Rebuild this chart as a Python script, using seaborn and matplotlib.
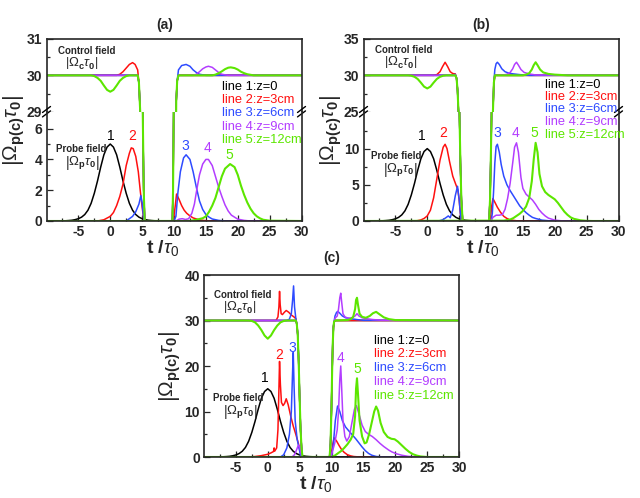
import matplotlib
matplotlib.use("Agg")
import matplotlib.pyplot as plt
import seaborn as sns

sns.set_style("ticks")
plt.rcParams['font.family'] = ['Liberation Sans', 'DejaVu Sans']
plt.rcParams['mathtext.fontset'] = 'custom'
plt.rcParams['mathtext.rm'] = 'Liberation Sans'
plt.rcParams['mathtext.it'] = 'Liberation Sans:italic'
plt.rcParams['mathtext.bf'] = 'Liberation Sans:bold'
plt.rcParams['axes.unicode_minus'] = False

colors = ['#000000', '#FF1010', '#2E4BFF', '#B33DFF', '#5CE600']
widths = [1.1, 1.1, 1.1, 1.1, 1.5]
line_labels = ['line 1:z=0', 'line 2:z=3cm', 'line 3:z=6cm', 'line 4:z=9cm', 'line 5:z=12cm']
x_major = [-5, 0, 5, 10, 15, 20, 25, 30]
x_minor = [-7.5, -2.5, 2.5, 7.5, 12.5, 17.5, 22.5, 27.5]

# ---------------- probe field |Omega_p tau_0| ----------------
t_black = [-10, -7, -6.5, -6, -5.5, -5, -4.5, -4, -3.5, -3, -2.5, -2, -1.5, -1, -0.5, 0,
           0.5, 1, 1.5, 2, 2.5, 3, 3.5, 4, 4.5, 5, 5.5, 6, 6.5, 7, 30]
a_p1 = [0, 0.015, 0.03, 0.05, 0.09, 0.15, 0.25, 0.42, 0.7, 1.15, 1.8, 2.6, 3.5, 4.3, 4.8, 5.0,
        4.8, 4.3, 3.5, 2.6, 1.8, 1.15, 0.7, 0.42, 0.25, 0.15, 0.09, 0.05, 0.03, 0.015, 0]
b_p1 = [0, 0.03, 0.06, 0.1, 0.18, 0.3, 0.5, 0.84, 1.4, 2.3, 3.6, 5.2, 7.0, 8.6, 9.6, 10.0,
        9.6, 8.6, 7.0, 5.2, 3.6, 2.3, 1.4, 0.84, 0.5, 0.3, 0.18, 0.1, 0.06, 0.03, 0]
c_p1 = [0, 0.05, 0.09, 0.15, 0.27, 0.45, 0.75, 1.26, 2.1, 3.45, 5.4, 7.8, 10.5, 12.9, 14.4, 15.0,
        14.4, 12.9, 10.5, 7.8, 5.4, 3.45, 2.1, 1.26, 0.75, 0.45, 0.27, 0.15, 0.09, 0.05, 0]

a_t2 = [-10, -2, -1, 0, 0.5, 1, 1.5, 2, 2.5, 3, 3.3, 3.6, 4, 4.4, 4.7, 5.0, 5.3,
        9.9, 10.2, 10.4, 10.8, 11.2, 11.6, 12, 12.5, 13, 14, 15, 16, 30]
a_p2 = [0, 0, 0.08, 0.3, 0.55, 1.0, 1.6, 2.4, 3.6, 4.4, 4.75, 4.7, 4.2, 3.2, 2.0, 0.9, 0,
        0, 1.0, 1.75, 1.4, 1.0, 0.7, 0.5, 0.33, 0.2, 0.07, 0.02, 0, 0]
a_t3 = [-10, 2.5, 3, 3.5, 4, 4.5, 4.8, 5.0, 5.2, 5.35,
        10.0, 10.3, 10.6, 11, 11.5, 11.9, 12.5, 13, 13.5, 14, 14.5, 15, 15.5, 16, 17, 18, 30]
a_p3 = [0, 0, 0.15, 0.3, 0.6, 1.1, 1.65, 1.2, 0.3, 0,
        0, 0.3, 1.8, 3.2, 4.1, 4.3, 4.0, 3.2, 2.2, 1.3, 0.75, 0.42, 0.25, 0.13, 0.04, 0, 0]
a_t4 = [-10, 10.3, 10.8, 11.3, 11.8, 12.3, 12.8, 13.2, 13.6, 14, 14.5, 15, 15.4, 16, 16.5,
        17, 17.5, 18, 18.5, 19, 20, 21, 22, 30]
a_p4 = [0, 0, 0.12, 0.15, 0.1, 0.15, 0.5, 1.1, 2.1, 3.0, 3.7, 4.0, 4.0, 3.6, 2.9,
        2.2, 1.6, 1.05, 0.65, 0.38, 0.12, 0.04, 0, 0]
a_t5 = [-10, 12.5, 13.5, 14.5, 15, 15.5, 16, 16.5, 17, 17.5, 18, 18.8, 19.5, 20, 20.5,
        21, 21.5, 22, 22.5, 23, 23.5, 24, 25, 30]
a_p5 = [0, 0, 0.08, 0.18, 0.3, 0.6, 1.0, 1.5, 2.2, 2.9, 3.4, 3.7, 3.5, 3.0, 2.3,
        1.7, 1.2, 0.8, 0.5, 0.3, 0.17, 0.08, 0.02, 0]

b_t2 = [-10, -2, -1.5, -1, -0.5, 0, 0.5, 1, 1.5, 2, 2.5, 2.8, 3.1, 3.5, 4, 4.5, 4.8, 5.0, 5.2, 5.35,
        9.9, 10.1, 10.3, 10.6, 11, 11.5, 12, 12.5, 13, 14, 15, 30]
b_p2 = [0, 0, 0.05, 0.15, 0.35, 0.7, 1.5, 3.2, 5.8, 8.4, 10.2, 10.6, 10.0, 8.2, 6.2, 5.0, 4.3, 3.0, 1.0, 0,
        0, 2.0, 3.1, 2.6, 1.9, 1.2, 0.65, 0.35, 0.15, 0.03, 0, 0]
b_t3 = [-10, 1.5, 2, 2.5, 3, 3.3, 3.6, 4, 4.4, 4.75, 5.0, 5.2, 5.35,
        10.0, 10.2, 10.4, 10.6, 10.8, 11.0, 11.3, 11.6, 12, 12.5, 13, 13.5, 14, 14.5, 15,
        15.5, 16, 16.5, 17, 18, 19, 20, 30]
b_p3 = [0, 0, 0.05, 0.2, 0.5, 0.7, 0.45, 1.5, 3.5, 4.8, 3.0, 1.0, 0,
        0, 1.0, 4.0, 8.0, 10.3, 10.6, 9.5, 7.8, 6.2, 5.0, 4.2, 3.5, 2.8, 2.1, 1.6,
        1.15, 0.8, 0.5, 0.35, 0.12, 0.04, 0, 0]
b_t4 = [-10, 10, 10.3, 10.8, 11.3, 11.8, 12.2, 12.6, 13.0, 13.4, 13.7, 14.0, 14.3, 14.7, 15.0,
        15.5, 16, 16.5, 17, 17.5, 18, 18.5, 19, 20, 21, 22, 30]
b_p4 = [0, 0, 0.5, 0.8, 0.8, 0.9, 1.6, 3.1, 5.2, 8.0, 10.2, 10.8, 9.5, 6.0, 4.5,
        3.7, 3.3, 2.9, 2.3, 1.6, 1.1, 0.7, 0.4, 0.12, 0.03, 0, 0]
b_t5 = [-10, 12, 13, 13.5, 14, 14.5, 15, 15.5, 16, 16.4, 16.7, 17, 17.3, 17.6, 18, 18.5, 19,
        19.5, 20, 20.5, 21, 21.5, 22, 22.5, 23, 24, 25, 26, 30]
b_p5 = [0, 0.05, 0.2, 0.4, 0.7, 1.0, 1.4, 2.0, 3.2, 5.5, 8.5, 10.8, 9.5, 6.5, 4.8, 4.0, 3.6,
        3.3, 3.0, 2.5, 1.9, 1.3, 0.85, 0.5, 0.3, 0.1, 0.02, 0, 0]

c_t2 = [-10, -3, -2, -1, 0, 0.5, 0.9, 1.0, 1.1, 1.4, 1.6, 1.72, 1.85, 1.98, 2.15, 2.4, 2.65, 2.9,
        3.2, 3.6, 4.0, 4.4, 4.8, 5.1, 5.3, 9.9, 10.15, 10.4, 10.8, 11.2, 11.6, 12, 12.5, 13,
        13.5, 14.5, 30]
c_p2 = [0, 0, 0.1, 0.3, 0.6, 0.9, 1.2, 2.0, 1.3, 2.0, 6.0, 13, 21, 16, 12, 11.3, 11.8, 12.8,
        11.5, 9.0, 6.8, 5.0, 3.0, 1.2, 0, 0, 2.5, 4.2, 3.5, 2.5, 1.6, 1.0, 0.5, 0.25,
        0.1, 0, 0]
c_t3 = [-10, 2.0, 2.5, 3.0, 3.4, 3.7, 3.88, 4.0, 4.12, 4.3, 4.6, 4.9, 5.2,
        10.0, 10.3, 10.6, 10.95, 11.3, 11.7, 12.2, 12.8, 13.3, 13.8, 14.3, 14.8, 15.3, 15.8,
        16.3, 17, 18, 30]
c_p3 = [0, 0, 0.5, 2.0, 5.0, 10, 18, 23, 16, 8, 4.0, 2.0, 0,
        0, 3, 8, 11.2, 10, 8, 6.6, 5.6, 4.8, 4.0, 3.1, 2.2, 1.4, 0.8,
        0.4, 0.12, 0, 0]
c_t4 = [-10, 3.8, 4.2, 4.5, 4.8, 5.0, 5.2, 5.35, 9.9, 10.2, 10.5, 10.9, 11.1, 11.3, 11.45, 11.6,
        11.8, 12.1, 12.4, 12.8, 13.2, 13.6, 13.9, 14.3, 14.8, 15.3, 15.8, 16.4, 17, 17.6, 18.2,
        19, 19.5, 20.2, 21, 22, 23, 24, 30]
c_p4 = [0, 0, 0.5, 1.5, 2.6, 2.3, 1.0, 0, 0, 1.5, 3.0, 6.0, 10, 17, 20, 15,
        8, 4.5, 3.5, 4.5, 7.5, 10.5, 11.3, 9.5, 7.0, 5.6, 5.0, 4.5, 3.8, 3.0, 2.3,
        1.5, 1.1, 0.7, 0.4, 0.15, 0.05, 0, 0]
c_t5 = [-10, 10, 10.5, 11, 11.5, 12, 12.5, 13, 13.4, 13.7, 13.85, 14.0, 14.15, 14.4, 14.8, 15.2,
        15.5, 15.9, 16.3, 16.7, 17.0, 17.3, 17.7, 18.2, 18.8, 19.4, 19.9, 20.4, 21, 21.6, 22.2,
        22.8, 23.4, 24, 25, 30]
c_p5 = [0, 0, 0.3, 0.8, 1.3, 2.0, 2.8, 3.8, 5.0, 9, 15, 17.3, 14, 8, 4.5, 3.0,
        3.2, 5.0, 7.5, 10.0, 11.1, 10.2, 7.5, 5.5, 4.4, 4.0, 3.9, 3.4, 2.6, 1.8, 1.1,
        0.6, 0.3, 0.12, 0, 0]

# ---------------- control field |Omega_c tau_0| ----------------
# switch-off / switch-on edges shared by all lines of a panel
a_drop_t = [4.5, 4.7, 4.85, 5.0, 5.1, 5.25, 5.4]
a_drop_v = [29.8, 29.0, 24, 14, 7, 2, 0]
a_rise_t = [9.75, 9.85, 9.95, 10.05, 10.2, 10.35, 10.5]
a_rise_v = [0, 2, 7, 16, 26, 29.3, 29.85]
b_drop_t = [4.6, 4.75, 4.9, 5.05, 5.2, 5.35, 5.55]
b_drop_v = [29.6, 28, 25, 15, 8, 3, 0]
b_rise_t = [9.7, 9.85, 10.0, 10.15, 10.3, 10.45]
b_rise_v = [0, 3, 10, 18, 25, 29]
c_drop_t = [4.55, 4.7, 4.85, 5.0, 5.15, 5.3, 5.45]
c_drop_v = [29.3, 27, 21, 13, 6, 2, 0]
c_rise_t = [9.7, 9.85, 10.0, 10.1, 10.2, 10.3, 10.4]
c_rise_v = [0, 3, 11, 19, 25, 28.5, 29.7]

# before the switch-off (pre) and after the switch-on (post), per line
a_pre = [
    ([-10, 4.3], [30, 30]),
    ([-10, 1.0, 1.5, 2.0, 2.5, 3.0, 3.5, 3.9, 4.3], [30, 30, 30.03, 30.1, 30.2, 30.3, 30.35, 30.3, 30.15]),
    ([-10, 4.3], [30, 30]),
    ([-10, 4.3], [30, 30]),
    ([-10, -3, -2.5, -2, -1.5, -1, -0.5, 0, 0.5, 1, 1.5, 2, 2.5, 3, 4.3],
     [30, 30, 29.98, 29.93, 29.85, 29.72, 29.6, 29.55, 29.6, 29.72, 29.85, 29.93, 29.98, 30, 30]),
]
a_post = [
    ([10.7, 30], [30, 30]),
    ([10.7, 30], [30, 30]),
    ([10.7, 11.2, 11.9, 12.5, 13.0, 13.5, 14.0, 15.0, 30],
     [30.15, 30.27, 30.3, 30.25, 30.15, 30.08, 30.03, 30, 30]),
    ([10.7, 13.0, 13.5, 14.0, 14.5, 15.0, 15.4, 16.0, 16.5, 17.0, 17.5, 18.5, 30],
     [30, 30, 30.03, 30.1, 30.18, 30.23, 30.25, 30.22, 30.15, 30.08, 30.03, 30, 30]),
    ([10.7, 16, 16.5, 17, 17.5, 18, 18.5, 18.9, 19.5, 20, 20.5, 21, 21.5, 22.5, 30],
     [30, 30, 30.02, 30.06, 30.11, 30.17, 30.21, 30.22, 30.2, 30.16, 30.1, 30.06, 30.03, 30, 30]),
]
b_pre = [
    ([-10, 4.4], [30, 30]),
    ([-10, 1.0, 1.5, 2.0, 2.4, 2.8, 3.2, 3.6, 4.0, 4.4], [30, 30, 30.1, 30.5, 31.2, 31.8, 31.2, 30.5, 30.25, 30.2]),
    ([-10, 4.0, 4.4], [30, 30, 30.15]),
    ([-10, 4.4], [30, 30]),
    ([-10, -3, -2.5, -2, -1.5, -1, -0.5, 0, 0.5, 1, 1.5, 2, 2.5, 3, 4.4],
     [30, 30, 29.95, 29.8, 29.5, 29.0, 28.45, 28.2, 28.45, 29.0, 29.5, 29.8, 29.95, 30, 30]),
]
b_post = [
    ([10.6, 30], [30, 30]),
    ([10.6, 30], [30, 30]),
    ([10.6, 10.8, 11.0, 11.3, 11.7, 12.2, 12.8, 13.5, 14.5, 16, 30],
     [30.8, 31.6, 31.8, 31.5, 30.9, 30.5, 30.3, 30.2, 30.1, 30.0, 30.0]),
    ([10.6, 12.0, 12.5, 13.0, 13.4, 13.7, 14.0, 14.3, 14.7, 15.2, 16, 17, 30],
     [30, 30.05, 30.15, 30.4, 30.9, 31.5, 31.8, 31.4, 30.8, 30.4, 30.2, 30.05, 30]),
    ([10.6, 15.0, 15.5, 16.0, 16.4, 16.7, 17.0, 17.3, 17.7, 18.2, 19, 20, 21, 22, 30],
     [30, 30, 30.1, 30.3, 30.8, 31.4, 31.8, 31.4, 30.8, 30.4, 30.2, 30.1, 30.05, 30, 30]),
]
c_pre = [
    ([-10, 4.4], [30, 30]),
    ([-10, 1.3, 1.6, 1.75, 1.85, 1.95, 2.1, 2.3, 2.6, 2.9, 3.3, 3.7, 4.1, 4.4],
     [30, 30, 30.8, 33, 36.4, 33.5, 31.5, 31.3, 31.8, 32.2, 31.8, 31.2, 30.8, 30.4]),
    ([-10, 3.0, 3.4, 3.7, 3.9, 4.05, 4.2, 4.4], [30, 30, 30.3, 31.5, 34.5, 37.6, 33, 30.5]),
    ([-10, 4.4], [30, 30]),
    ([-10, -3, -2.5, -2, -1.5, -1, -0.5, 0, 0.5, 1, 1.5, 2, 2.5, 3, 4.4],
     [30, 30, 29.9, 29.6, 28.9, 27.9, 26.7, 26.0, 26.7, 27.9, 28.9, 29.6, 29.9, 30, 30]),
]
c_post = [
    ([10.55, 30], [30, 30]),
    ([10.55, 30], [30, 30]),
    ([10.55, 10.8, 11.0, 11.3, 11.7, 12.2, 13, 14, 15, 30],
     [31.0, 31.8, 32.0, 31.6, 31.0, 30.6, 30.4, 30.2, 30.05, 30]),
    ([10.55, 10.9, 11.1, 11.3, 11.45, 11.6, 11.8, 12.1, 12.6, 13.2, 13.7, 14.0, 14.3, 14.8, 15.5, 16.5, 18, 30],
     [30.5, 31.0, 32.5, 35, 36, 34, 31.5, 30.8, 30.5, 30.6, 31.0, 31.5, 31.0, 30.6, 30.4, 30.2, 30.05, 30]),
    ([10.55, 12.5, 13.0, 13.4, 13.7, 13.85, 14.0, 14.15, 14.4, 14.8, 15.4, 16.0, 16.5, 17.0, 17.5, 18.2, 19, 20, 30],
     [30, 30.1, 30.3, 30.8, 32.5, 34.5, 35.0, 33.5, 31.5, 30.8, 30.6, 31.0, 31.6, 31.9, 31.4, 30.7, 30.3, 30.1, 30]),
]

# peak number labels (t, y)
a_peak_lab = [(0.1, 5.5), (3.4, 5.5), (11.8, 4.9), (15.2, 4.77), (18.7, 4.27)]
b_peak_lab = [(-0.8, 11.7), (2.5, 12.2), (10.96, 12.2), (13.9, 12.2), (16.8, 12.2)]
c_peak_lab = [(-0.45, 17.3), (1.8, 22.4), (3.8, 24.0), (11.4, 21.7), (14.0, 19.3)]

W, H = 640, 498
fig = plt.figure(figsize=(W / 100, H / 100), dpi=100)


def box(left, top, right, bottom):
    return [left / W, 1 - bottom / H, (right - left) / W, (bottom - top) / H]


def fpos(x, y):
    return x / W, 1 - y / H


def control_curve(pre, drop_t, drop_v, rise_t, rise_v, post):
    return pre[0] + drop_t + rise_t + post[0], pre[1] + drop_v + rise_v + post[1]


def draw_lines(axes, probes, controls):
    for i in range(5):
        for ax in axes:
            sns.lineplot(x=probes[i][0], y=probes[i][1], ax=ax, color=colors[i],
                         lw=widths[i], estimator=None, sort=False)
            sns.lineplot(x=controls[i][0], y=controls[i][1], ax=ax, color=colors[i],
                         lw=widths[i], estimator=None, sort=False)


def style(ax, ylim, yticks, yminor, xaxis=True):
    ax.set_xlim(-10, 30)
    ax.set_ylim(*ylim)
    ax.set_yticks(yticks, labels=[str(v) for v in yticks], fontweight='bold', fontsize=10)
    ax.set_yticks(yminor, minor=True)
    ax.set_xticks(x_major, labels=[str(v) for v in x_major], fontweight='bold', fontsize=10)
    ax.set_xticks(x_minor, minor=True)
    ax.tick_params(which='both', direction='in', top=False, right=False, width=0.9, pad=3)
    ax.tick_params(which='major', length=4)
    ax.tick_params(which='minor', length=2)
    ax.set_xlabel('')
    ax.set_ylabel('')
    for s in ax.spines.values():
        s.set_linewidth(1.2)
    if not xaxis:
        ax.tick_params(which='both', bottom=False, labelbottom=False)


def break_marks(ax, hpx, wpx):
    dx, dy = 4 / wpx, 3 / hpx
    for xa in (0, 1):
        for off in (-2.2, 2.2):
            yy = 1 + off / hpx
            ax.plot([xa - dx, xa + dx], [yy - dy, yy + dy], transform=ax.transAxes,
                    color='k', lw=1.0, clip_on=False)


def add_texts(ax_low, peak_lab, ann, legend_xy, title_xy, title, xl_xy, yl_xy):
    for i, (tx, ty) in enumerate(peak_lab):
        ax_low.text(tx, ty, str(i + 1), color=colors[i], fontsize=10, ha='center', va='center')
    (cx, cy), (cx2, cy2), (px_, py_), (px2, py2) = ann
    fig.text(*fpos(cx, cy), 'Control field', fontsize=7, fontweight='bold', ha='center', va='center')
    fig.text(*fpos(cx2, cy2), r'$\left|\Omega_{\mathbf{c}}\tau_{\mathbf{0}}\right|$', fontsize=9.5,
             ha='center', va='center')
    fig.text(*fpos(px_, py_), 'Probe field', fontsize=7, fontweight='bold', ha='center', va='center')
    fig.text(*fpos(px2, py2), r'$\left|\Omega_{\mathbf{p}}\tau_{\mathbf{0}}\right|$', fontsize=9.5,
             ha='center', va='center')
    lx, ly0, lstep = legend_xy
    for i in range(5):
        fig.text(*fpos(lx, ly0 + i * lstep), line_labels[i], color=colors[i], fontsize=9.3,
                 ha='left', va='center')
    fig.text(*fpos(*title_xy), title, fontsize=10, fontweight='bold', ha='center', va='center')
    fig.text(*fpos(*xl_xy), r't /$\tau_{0}$', fontsize=14, fontweight='bold', ha='center', va='top')
    fig.text(*fpos(*yl_xy), r'$\left|\Omega_{\mathbf{p(c)}}\tau_{\mathbf{0}}\right|$', fontsize=15,
             rotation=90, ha='center', va='center')


# ---------------- panel (a) ----------------
a_up = fig.add_axes(box(46.5, 39, 301.5, 111.7))
a_lo = fig.add_axes(box(46.5, 111.7, 301.5, 221))
a_probes = [(t_black, a_p1), (a_t2, a_p2), (a_t3, a_p3), (a_t4, a_p4), (a_t5, a_p5)]
a_ctrl = [control_curve(a_pre[i], a_drop_t, a_drop_v, a_rise_t, a_rise_v, a_post[i]) for i in range(5)]
draw_lines([a_up, a_lo], a_probes, a_ctrl)
style(a_up, (29, 31), [29, 30, 31], [29.5, 30.5], xaxis=False)
style(a_lo, (0, 7.1), [0, 2, 4, 6], [1, 3, 5])
a_up.spines['bottom'].set_visible(False)
a_lo.spines['top'].set_visible(False)
break_marks(a_lo, 109.3, 255)
add_texts(a_lo, a_peak_lab,
          [(86.5, 50.7), (82, 63), (81.5, 149), (82, 163)],
          (221.7, 87, 13.2), (165, 25), '(a)', (163, 238), (14, 130))

# ---------------- panel (b) ----------------
b_up = fig.add_axes(box(363.5, 39, 618.5, 111.7))
b_lo = fig.add_axes(box(363.5, 111.7, 618.5, 221))
b_probes = [(t_black, b_p1), (b_t2, b_p2), (b_t3, b_p3), (b_t4, b_p4), (b_t5, b_p5)]
b_ctrl = [control_curve(b_pre[i], b_drop_t, b_drop_v, b_rise_t, b_rise_v, b_post[i]) for i in range(5)]
draw_lines([b_up, b_lo], b_probes, b_ctrl)
style(b_up, (25, 35), [25, 30, 35], [27.5, 32.5], xaxis=False)
style(b_lo, (0, 15.1), [0, 5, 10], [2.5, 7.5, 12.5])
b_up.spines['bottom'].set_visible(False)
b_lo.spines['top'].set_visible(False)
break_marks(b_lo, 109.3, 255)
add_texts(b_lo, b_peak_lab,
          [(403.5, 50), (401, 62), (396.5, 156), (400, 170)],
          (545, 84.5, 12.5), (481.5, 25), '(b)', (483, 238), (331, 130))

# ---------------- panel (c) ----------------
c_ax = fig.add_axes(box(204, 275, 459, 457))
c_probes = [(t_black, c_p1), (c_t2, c_p2), (c_t3, c_p3), (c_t4, c_p4), (c_t5, c_p5)]
c_ctrl = [control_curve(c_pre[i], c_drop_t, c_drop_v, c_rise_t, c_rise_v, c_post[i]) for i in range(5)]
draw_lines([c_ax], c_probes, c_ctrl)
style(c_ax, (0, 40), [0, 10, 20, 30, 40], [5, 15, 25, 35])
add_texts(c_ax, c_peak_lab,
          [(242.5, 295), (240, 307.3), (238.5, 397.7), (240, 411.7)],
          (373.5, 340.5, 13.9), (331.5, 258), '(c)', (316, 474), (170, 366))

fig.savefig('out.png', dpi=100)
